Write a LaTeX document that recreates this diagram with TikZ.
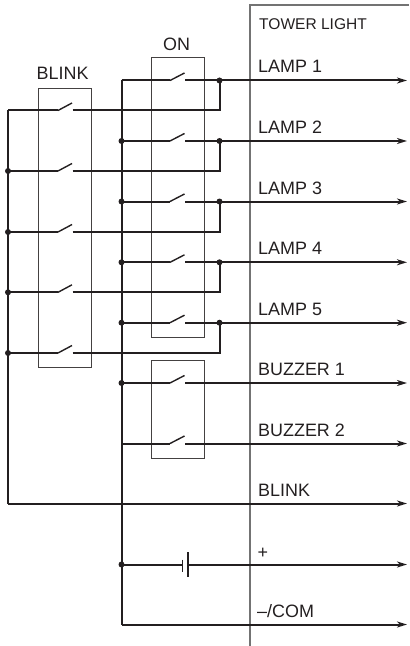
\documentclass[tikz,border=0pt]{standalone}
\usepackage{fontspec}
\setmainfont{Liberation Sans}
\usetikzlibrary{arrows.meta}
\definecolor{ink}{HTML}{231F20}
\tikzset{
  wire/.style={draw=ink,line width=2bp},
  feed/.style={wire,-{Stealth[length=10bp,width=6bp,inset=3bp]}},
  blade/.style={draw=ink,line width=1.4bp},
  frame/.style={draw=ink!85,line width=1bp},
  tower/.style={draw=black!55,line width=1.5bp},
  junction/.style={circle,fill=ink,inner sep=0pt,minimum size=6bp},
  big/.style={text=ink,inner sep=0pt,anchor=base west,font=\fontsize{18}{20}\selectfont},
  small/.style={text=ink,inner sep=0pt,anchor=base west,font=\fontsize{15.6}{18}\selectfont}
}
\begin{document}
\begin{tikzpicture}[x=1bp,y=-1bp]
\useasboundingbox (0,0) rectangle (409,646);
% frames
\draw[frame] (38.5,88.5) rectangle (91,367.5);
\draw[frame] (151.5,58) rectangle (204.5,337.5);
\draw[frame] (151.5,360.5) rectangle (204.5,458.5);
\draw[tower] (409,5) -- (250,5) -- (250,646);
% anchors
\coordinate (bustop) at (121.5,80.5);
\coordinate (blinktop) at (8,110.5);
\coordinate (busbot) at (121.5,624.5);
\coordinate (comend) at (407,624.5);
\coordinate (blinkcorner) at (8,503.5);
\coordinate (blinkend) at (407,503.5);
% ON rows and blink rows
\foreach \n/\y/\by in {1/80.5/110.5,2/141/171,3/201.5/232,4/262.3/292.3,5/322.7/353}{
  \coordinate (onL\n) at (170,\y);
  \coordinate (onT\n) at (184.5,\y-7.5);
  \coordinate (onR\n) at (185,\y);
  \coordinate (onE\n) at (407,\y);
  \coordinate (onJ\n) at (219.5,\y);
  \coordinate (onB\n) at (121.5,\y);
  \coordinate (blA\n) at (8,\by);
  \coordinate (blL\n) at (58,\by);
  \coordinate (blT\n) at (72,\by-7.5);
  \coordinate (blR\n) at (72.5,\by);
  \coordinate (blC\n) at (219.5,\by);
  \draw[wire] (onB\n) -- (onL\n);
  \draw[blade] (onL\n) -- (onT\n);
  \draw[feed] (onR\n) -- (onE\n);
  \draw[wire] (blA\n) -- (blL\n);
  \draw[blade] (blL\n) -- (blT\n);
  \draw[wire] (blR\n) -- (blC\n) -- (onJ\n);
  \node[junction] (dotR\n) at (onJ\n) {};
}
\foreach \n/\y in {6/383,7/443.5}{
  \coordinate (onL\n) at (170,\y);
  \coordinate (onT\n) at (184.5,\y-7.5);
  \coordinate (onR\n) at (185,\y);
  \coordinate (onE\n) at (407,\y);
  \coordinate (onB\n) at (121.5,\y);
  \draw[wire] (onB\n) -- (onL\n);
  \draw[blade] (onL\n) -- (onT\n);
  \draw[feed] (onR\n) -- (onE\n);
}
% buses
\draw[wire] (bustop) -- (busbot);
\draw[feed] (busbot) -- (comend);
\draw[wire] (blinktop) -- (blinkcorner);
\draw[feed] (blinkcorner) -- (blinkend);
% junctions
\foreach \n in {2,3,4,5,6}{\node[junction] at (onB\n) {};}
\foreach \n in {2,3,4,5}{\node[junction] at (blA\n) {};}
% battery
\coordinate (batB) at (121.5,564.5);
\coordinate (batS) at (182.7,564.5);
\coordinate (batL) at (188,564.5);
\coordinate (batE) at (407,564.5);
\draw[wire] (batB) -- (batS);
\draw[feed] (batL) -- (batE);
\draw[draw=ink,line width=1.4bp] (182.7,559.5) -- (182.7,571.5);
\draw[draw=ink,line width=2bp] (188,552) -- (188,577);
\node[junction] at (batB) {};
% labels
\node[big] (lblon) at (163,51) {ON};
\node[big] (lblbl) at (36.5,80) {BLINK};
\node[small] (lbltw) at (259,29.5) {TOWER LIGHT};
\node[big] (l1) at (258,73) {LAMP 1};
\node[big] (l2) at (258,133.5) {LAMP 2};
\node[big] (l3) at (258,194) {LAMP 3};
\node[big] (l4) at (258,254.5) {LAMP 4};
\node[big] (l5) at (258,315) {LAMP 5};
\node[big] (l6) at (258,375.5) {BUZZER 1};
\node[big] (l7) at (258,436) {BUZZER 2};
\node[big] (l8) at (258,496) {BLINK};
\node[big] (l9) at (257.5,558) {+};
\node[big] (l10) at (257,617) {–/COM};
\end{tikzpicture}
\end{document}
